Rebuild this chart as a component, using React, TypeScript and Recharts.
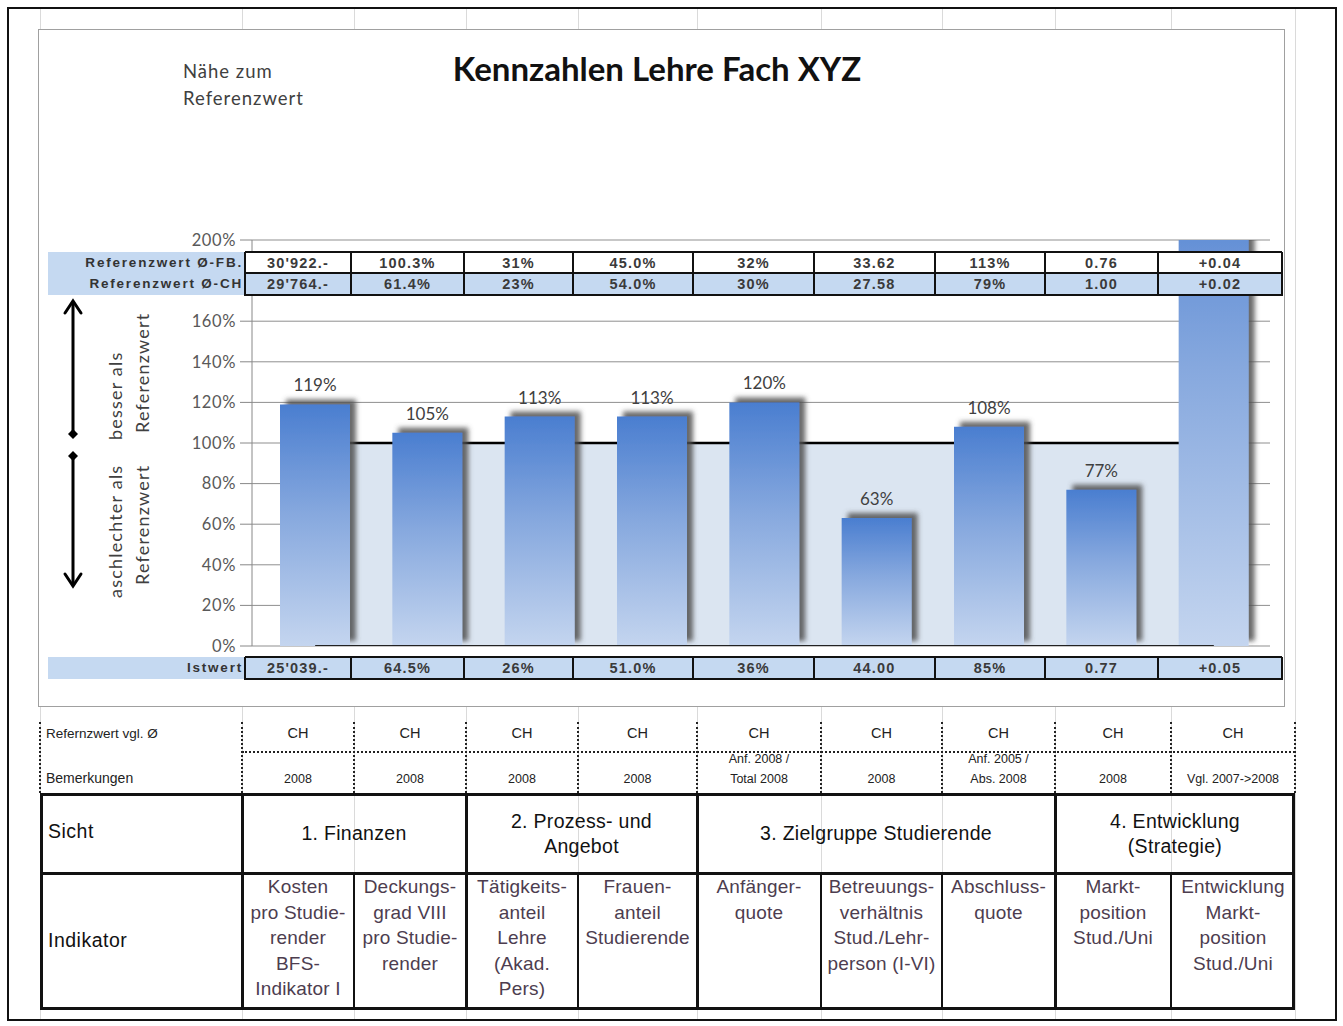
import React from "react"
import {
  ComposedChart,
  Bar,
  Area,
  Line,
  XAxis,
  YAxis,
  CartesianGrid,
  LabelList,
} from "recharts"

// indicator names (one entry per bar), split the way the sheet wraps them
const indicators = [
  ["Kosten", "pro Studie-", "render", "BFS-", "Indikator I"],
  ["Deckungs-", "grad VIII", "pro Studie-", "render"],
  ["Tätigkeits-", "anteil", "Lehre", "(Akad.", "Pers)"],
  ["Frauen-", "anteil", "Studierende"],
  ["Anfänger-", "quote"],
  ["Betreuungs-", "verhältnis", "Stud./Lehr-", "person (I-VI)"],
  ["Abschluss-", "quote"],
  ["Markt-", "position", "Stud./Uni"],
  ["Entwicklung", "Markt-", "position", "Stud./Uni"],
]

// "Nähe zum Referenzwert" in %
const nearness = [119, 105, 113, 113, 120, 63, 108, 77, 250]
const referenceLevel = [100, 100, 100, 100, 100, 100, 100, 100, 100]
const baseline = [0, 0, 0, 0, 0, 0, 0, 0, 0]
// 180% sits under the reference rows, so it is not listed
const yTicks = [0, 20, 40, 60, 80, 100, 120, 140, 160, 200]

const refFB = ["30'922.-", "100.3%", "31%", "45.0%", "32%", "33.62", "113%", "0.76", "+0.04"]
const refCH = ["29'764.-", "61.4%", "23%", "54.0%", "30%", "27.58", "79%", "1.00", "+0.02"]
const actual = ["25'039.-", "64.5%", "26%", "51.0%", "36%", "44.00", "85%", "0.77", "+0.05"]

const refBasis = ["CH", "CH", "CH", "CH", "CH", "CH", "CH", "CH", "CH"]
const remarks = [
  ["2008"],
  ["2008"],
  ["2008"],
  ["2008"],
  ["Anf. 2008 /", "Total 2008"],
  ["2008"],
  ["Anf. 2005 /", "Abs. 2008"],
  ["2008"],
  ["Vgl. 2007->2008"],
]
const perspectives = [
  { label: ["1. Finanzen"], span: 2 },
  { label: ["2. Prozess- und", "Angebot"], span: 2 },
  { label: ["3. Zielgruppe Studierende"], span: 3 },
  { label: ["4. Entwicklung", "(Strategie)"], span: 2 },
]

const data = indicators.map((lines, i) => ({
  name: lines.join(" "),
  nearness: nearness[i],
  reference: referenceLevel[i],
  base: baseline[i],
}))

// layout
const chartCols = [245, 351, 464, 573, 693, 814, 935, 1045, 1158, 1282]
const sheetCols = [40, 242, 354, 466, 578, 697, 821, 942, 1055, 1171, 1295]
const CAL = "Lato, 'Open Sans', sans-serif"
const ARIAL = "'Liberation Sans', Arial, sans-serif"
const LIGHT = "#c5d9f1"

const abs = (s: React.CSSProperties): React.CSSProperties => ({ position: "absolute", ...s })

function ValueRows({
  rows,
  top,
  heights,
  fills,
  labels,
}: {
  rows: string[][]
  top: number
  heights: number[]
  fills: string[]
  labels: string[]
}) {
  const left = chartCols[0]
  const right = chartCols[chartCols.length - 1]
  const total = heights.reduce((a, b) => a + b, 0)
  const out: React.ReactNode[] = []
  let y = top
  rows.forEach((vals, r) => {
    out.push(<div key={"lb" + r} style={abs({ left: 48, top: y, width: left - 48, height: heights[r], background: LIGHT })} />)
    out.push(
      <div
        key={"lt" + r}
        style={abs({
          left: 40,
          top: y,
          width: left - 42,
          height: heights[r],
          lineHeight: heights[r] + "px",
          textAlign: "right",
          fontFamily: ARIAL,
          fontWeight: "bold",
          fontSize: 13.5,
          letterSpacing: 1.8,
          color: "#333",
          whiteSpace: "nowrap",
          overflow: "hidden",
        })}
      >
        {labels[r]}
      </div>
    )
    vals.forEach((v, i) => {
      out.push(
        <div
          key={"c" + r + "-" + i}
          style={abs({
            left: chartCols[i],
            top: y,
            width: chartCols[i + 1] - chartCols[i],
            height: heights[r],
            lineHeight: heights[r] + 1 + "px",
            background: fills[r],
            textAlign: "center",
            fontFamily: ARIAL,
            fontWeight: "bold",
            fontSize: 14.5,
            letterSpacing: 1.2,
            color: "#3a3a3a",
          })}
        >
          {v}
        </div>
      )
    })
    y += heights[r]
  })
  // grid lines
  let ly = top
  ;[0, ...heights].forEach((h, k) => {
    ly += h
    const outer = k === 0 || k === heights.length
    out.push(<div key={"h" + k} style={abs({ left, top: ly - 1, width: right - left, height: outer ? 2 : 1.5, background: "#111" })} />)
  })
  chartCols.forEach((x, k) => {
    const outer = k === 0 || k === chartCols.length - 1
    out.push(<div key={"v" + k} style={abs({ left: x - 1, top, width: outer ? 2 : 1.5, height: total + 1, background: "#111" })} />)
  })
  return <>{out}</>
}

export default function App() {
  const center = (i: number) => (sheetCols[i + 1] + sheetCols[i + 2]) / 2
  let colIdx = 1
  const groups = perspectives.map((p) => {
    const g = { ...p, from: sheetCols[colIdx], to: sheetCols[colIdx + p.span] }
    colIdx += p.span
    return g
  })

  return (
    <div style={abs({ left: 0, top: 0, width: 1343, height: 1026, background: "#fff", overflow: "hidden" })}>
      {/* faint spreadsheet grid */}
      {sheetCols.map((x) => (
        <div key={"sg" + x} style={abs({ left: x, top: 8, width: 1, height: 1012, background: "#dadada" })} />
      ))}
      <div style={abs({ left: 7, top: 7, width: 1326, height: 1010, border: "2px solid #111" })} />

      {/* chart frame */}
      <div style={abs({ left: 38, top: 29, width: 1245, height: 676, background: "#fff", border: "1.5px solid #a0a0a0" })} />

      <div style={abs({ left: 0, top: 0 })}>
        <ComposedChart
          width={1343}
          height={700}
          data={data}
          margin={{ top: 240, right: 73, bottom: 54, left: 192 }}
        >
          <defs>
            <linearGradient id="barFill" x1="0" y1="0" x2="0" y2="1">
              <stop offset="0%" stopColor="#4a7ed0" />
              <stop offset="45%" stopColor="#86a8de" />
              <stop offset="100%" stopColor="#c4d5ef" />
            </linearGradient>
            <filter id="barShadow" x="-20%" y="-20%" width="150%" height="140%">
              <feDropShadow dx="6" dy="-5" stdDeviation="2.5" floodColor="#505050" floodOpacity="0.85" />
            </filter>
          </defs>
          <CartesianGrid vertical={false} stroke="#8f8f8f" />
          <XAxis dataKey="name" hide padding={{ left: 7, right: 0 }} />
          <YAxis
            domain={[0, 200]}
            ticks={yTicks}
            allowDataOverflow
            width={60}
            tickFormatter={(v) => `${v}%`}
            axisLine={{ stroke: "#888" }}
            tickLine={{ stroke: "#888" }}
            tickSize={12}
            tickMargin={4}
            tick={{ fill: "#595959", fontSize: 16.5, fontFamily: CAL, letterSpacing: 0.6 }}
          />
          <Area
            type="linear"
            dataKey="reference"
            fill="#dbe5f1"
            fillOpacity={1}
            stroke="#000"
            strokeWidth={2.5}
            dot={false}
            activeDot={false}
            isAnimationActive={false}
          />
          <Line
            type="linear"
            dataKey="base"
            stroke="#222"
            strokeWidth={2}
            dot={false}
            activeDot={false}
            isAnimationActive={false}
          />
          <Bar
            dataKey="nearness"
            barSize={70}
            fill="url(#barFill)"
            filter="url(#barShadow)"
            isAnimationActive={false}
          >
            <LabelList
              dataKey="nearness"
              position="top"
              offset={13}
              formatter={(v: any) => (v > 200 ? "" : `${v}%`)}
              fill="#404040"
              fontSize={17}
              fontFamily={CAL}
            />
          </Bar>
        </ComposedChart>
      </div>

      {/* titles */}
      <div style={abs({ left: 357, top: 48, width: 600, textAlign: "center", fontFamily: CAL, fontWeight: "bold", fontSize: 33, color: "#111" })}>
        Kennzahlen Lehre Fach XYZ
      </div>
      <div style={abs({ left: 183, top: 58, fontFamily: CAL, fontSize: 18.5, letterSpacing: 1, lineHeight: "27px", color: "#404040" })}>
        Nähe zum
        <br />
        Referenzwert
      </div>

      {/* arrows + rotated notes */}
      <svg width={1343} height={700} style={abs({ left: 0, top: 0 })}>
        <g stroke="#000" strokeWidth={3} fill="none" strokeLinecap="round">
          <line x1={73} y1={302} x2={73} y2={433} />
          <polyline points="65,313 73,301 81,313" />
          <line x1={73} y1={457} x2={73} y2={585} />
          <polyline points="65,574 73,586 81,574" />
        </g>
        <polygon points="73,429 78,434 73,439 68,434" fill="#000" />
        <polygon points="73,451 78,456 73,461 68,456" fill="#000" />
        <g fontFamily={CAL} fontSize={18} fill="#404040" dominantBaseline="central" letterSpacing={1.2}>
          <text transform="translate(115,440) rotate(-90)">besser als</text>
          <text transform="translate(142,433) rotate(-90)">Referenzwert</text>
          <text transform="translate(115,598) rotate(-90)">aschlechter als</text>
          <text transform="translate(142,585) rotate(-90)">Referenzwert</text>
        </g>
      </svg>

      {/* value rows on the chart */}
      <ValueRows
        rows={[refFB, refCH]}
        top={252}
        heights={[21, 22]}
        fills={["#fff", LIGHT]}
        labels={["Referenzwert Ø-FB.", "Referenzwert Ø-CH"]}
      />
      <ValueRows rows={[actual]} top={657} heights={[22]} fills={[LIGHT]} labels={["Istwert"]} />

      {/* dotted sheet rows */}
      {sheetCols.map((x) => (
        <div key={"dv" + x} style={abs({ left: x - 1, top: 722, width: 0, height: 71, borderLeft: "2px dotted #222" })} />
      ))}
      <div style={abs({ left: sheetCols[1], top: 751, width: sheetCols[10] - sheetCols[1], height: 0, borderTop: "2px dotted #222" })} />
      <div style={abs({ left: 46, top: 726, fontFamily: ARIAL, fontSize: 13.5, color: "#222" })}>Refernzwert vgl. Ø</div>
      <div style={abs({ left: 46, top: 770, fontFamily: ARIAL, fontSize: 14, color: "#222" })}>Bemerkungen</div>
      {refBasis.map((t, i) => (
        <div key={"rb" + i} style={abs({ left: sheetCols[i + 1], top: 725, width: sheetCols[i + 2] - sheetCols[i + 1], textAlign: "center", fontFamily: ARIAL, fontSize: 14.5, color: "#222" })}>
          {t}
        </div>
      ))}
      {remarks.map((lines, i) => (
        <div
          key={"rm" + i}
          style={abs({
            left: center(i) - 60,
            top: 789 - lines.length * 20,
            width: 120,
            textAlign: "center",
            fontFamily: ARIAL,
            fontSize: 12.5,
            lineHeight: "20px",
            color: "#222",
          })}
        >
          {lines.map((l, k) => (
            <div key={k}>{l}</div>
          ))}
        </div>
      ))}

      {/* bold indicator table */}
      <div style={abs({ left: 40, top: 793, width: 1255, height: 217, border: "3px solid #111", boxSizing: "border-box" })} />
      <div style={abs({ left: 40, top: 872, width: 1255, height: 3, background: "#111" })} />
      {[242, 466, 697, 1055].map((x) => (
        <div key={"gv" + x} style={abs({ left: x - 1, top: 793, width: 3, height: 217, background: "#111" })} />
      ))}
      {[354, 578, 821, 942, 1171].map((x) => (
        <div key={"tv" + x} style={abs({ left: x - 1, top: 873, width: 2, height: 137, background: "#111" })} />
      ))}
      <div style={abs({ left: 48, top: 820, fontFamily: ARIAL, fontSize: 19.5, letterSpacing: 0.5, color: "#111" })}>Sicht</div>
      <div style={abs({ left: 48, top: 929, fontFamily: ARIAL, fontSize: 19.5, letterSpacing: 0.5, color: "#111" })}>Indikator</div>
      {groups.map((g, k) => (
        <div
          key={"gp" + k}
          style={abs({
            left: g.from,
            top: 795,
            width: g.to - g.from,
            height: 77,
            display: "flex",
            flexDirection: "column",
            justifyContent: "center",
            textAlign: "center",
            fontFamily: ARIAL,
            fontSize: 19.5,
            letterSpacing: 0.3,
            lineHeight: "25px",
            color: "#111",
          })}
        >
          {g.label.map((l, j) => (
            <div key={j}>{l}</div>
          ))}
        </div>
      ))}
      {indicators.map((lines, i) => (
        <div
          key={"ind" + i}
          style={abs({
            left: sheetCols[i + 1] - 6,
            top: 874,
            width: sheetCols[i + 2] - sheetCols[i + 1] + 12,
            textAlign: "center",
            fontFamily: ARIAL,
            fontSize: 19,
            letterSpacing: 0.2,
            lineHeight: "25.5px",
            color: "#4d3d4f",
            whiteSpace: "nowrap",
          })}
        >
          {lines.map((l, k) => (
            <div key={k}>{l}</div>
          ))}
        </div>
      ))}
    </div>
  )
}
